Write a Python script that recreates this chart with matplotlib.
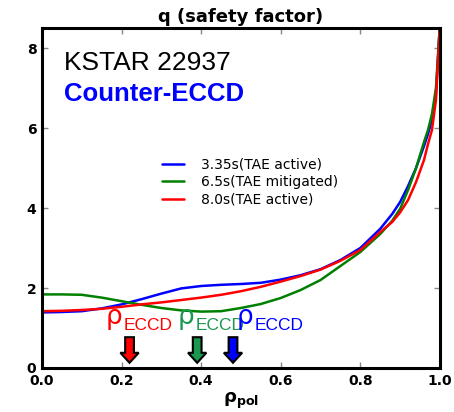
import matplotlib
matplotlib.use("Agg")
import matplotlib.pyplot as plt
from matplotlib.transforms import offset_copy

# ---- data ----
rho = [0.0, 0.05, 0.10, 0.15, 0.20, 0.25, 0.30, 0.35, 0.40, 0.45, 0.50, 0.55,
       0.60, 0.65, 0.70, 0.75, 0.80, 0.85, 0.88, 0.90, 0.92, 0.94, 0.96,
       0.97, 0.98, 0.99, 1.0]
q_335 = [1.39, 1.40, 1.42, 1.49, 1.59, 1.72, 1.86, 1.99, 2.05, 2.08, 2.10, 2.13,
         2.21, 2.32, 2.47, 2.70, 3.00, 3.48, 3.85, 4.15, 4.55, 5.00, 5.55,
         5.85, 6.20, 6.85, 8.60]
q_65 = [1.84, 1.84, 1.83, 1.76, 1.67, 1.58, 1.50, 1.44, 1.41, 1.42, 1.50, 1.60,
        1.75, 1.95, 2.20, 2.55, 2.90, 3.35, 3.68, 3.98, 4.45, 5.00, 5.65,
        5.95, 6.35, 7.00, 8.60]
q_80 = [1.42, 1.43, 1.45, 1.48, 1.53, 1.59, 1.64, 1.70, 1.76, 1.83, 1.92, 2.03,
        2.16, 2.30, 2.46, 2.68, 2.95, 3.40, 3.65, 3.89, 4.20, 4.65, 5.20,
        5.60, 5.95, 6.70, 8.60]
series_labels = ["3.35s(TAE active)", "6.5s(TAE mitigated)", "8.0s(TAE active)"]
series_colors = ["#0000ff", "#008000", "#ff0000"]
eccd_rho = [0.22, 0.39, 0.48]
eccd_colors = ["#ff0000", "#1a9850", "#0000ff"]
eccd_text_x = [0.161, 0.340, 0.489]
x_ticks = [0.0, 0.2, 0.4, 0.6, 0.8, 1.0]
y_ticks = [0, 2, 4, 6, 8]

fig = plt.figure(figsize=(4.54, 4.12), dpi=100)
ax = fig.add_axes([0.0925, 0.1068, 0.8765, 0.8252])

for q, lab, c in zip([q_335, q_65, q_80], series_labels, series_colors):
    ax.plot(rho, q, color=c, lw=1.8, label=lab, solid_capstyle='round')

ax.set_xlim(0, 1)
ax.set_ylim(0, 8.5)
ax.set_xticks(x_ticks)
ax.set_yticks(y_ticks)
ax.set_xticklabels([f"{v:.1f}" for v in x_ticks])
ax.set_yticklabels([str(v) for v in y_ticks])
ax.tick_params(direction='in', length=4, width=1, color='#888888',
               top=True, right=True, labelsize=10, pad=4)
for lab in ax.get_xticklabels() + ax.get_yticklabels():
    lab.set_fontweight('bold')
for sp in ax.spines.values():
    sp.set_linewidth(2.2)

ax.set_title("q (safety factor)", fontsize=13, fontweight='bold', pad=4)
ax.set_xlabel(r"$\mathbf{\rho}_{\mathbf{pol}}$", fontsize=13, labelpad=2)

ax.text(0.055, 0.876, "KSTAR 22937", transform=ax.transAxes, fontsize=19,
        family="Liberation Sans", color='black', va='baseline')
ax.text(0.055, 0.786, "Counter-ECCD", transform=ax.transAxes, fontsize=18.5,
        family="Liberation Sans", fontweight='bold', color='#0000ff', va='baseline')

leg = ax.legend(loc='upper left', bbox_to_anchor=(0.27, 0.655), frameon=False,
                fontsize=10, handlelength=1.6, handletextpad=1.2, labelspacing=0.25)

for x, c in zip(eccd_text_x, eccd_colors):
    ax.text(x, 1.10, "ρ", color=c, fontsize=19, family="DejaVu Sans",
            va='baseline', ha='left')
    tr = offset_copy(ax.transData, fig=fig, x=13, y=0, units='points')
    ax.text(x, 0.96, "ECCD", color=c, fontsize=12.5, family="Liberation Sans",
            va='baseline', ha='left', transform=tr)

for x, c in zip(eccd_rho, eccd_colors):
    ax.arrow(x, 0.77, 0, -0.64, width=0.022, head_width=0.046,
             head_length=0.25, length_includes_head=True,
             fc=c, ec='black', lw=1.5, zorder=5)

fig.savefig("out.png", dpi=100)
